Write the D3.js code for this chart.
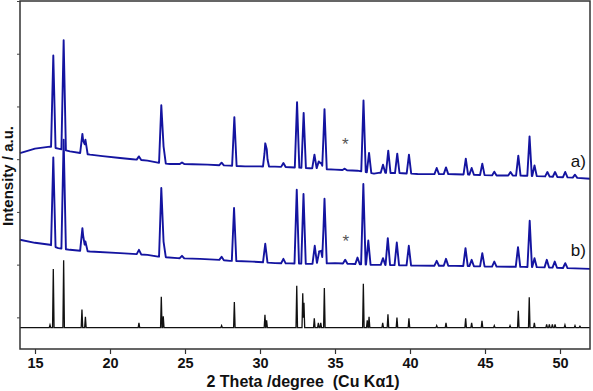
<!DOCTYPE html>
<html>
<head>
<meta charset="utf-8">
<script src="https://cdn.jsdelivr.net/npm/d3@7"></script>
<style>
  body { margin: 0; background: #fff; }
  svg { display: block; }
  text { font-family: "Liberation Sans", Arial, sans-serif; }
</style>
</head>
<body>
<div class="xrd-chart"></div>
<script>
const width = 593;
const height = 391;

// x in degrees 2theta, intensities in arbitrary units
const xTicksMajor = [15, 20, 25, 30, 35, 40, 45, 50];
const yTicks = [0, 1000, 2000, 3000, 4000, 5000, 6000];

// pattern a) : background points and peak tops
const baseA = [
    [14.0, 3114], [15.0, 3200], [16.0, 3238], [16.55, 3200], [17.33, 3148],
    [18.67, 3086], [19.5, 3057], [20.67, 3023], [21.5, 3000], [22.5, 2972],
    [23.3, 2928], [24.0, 2909], [25.5, 2905], [26.5, 2896], [28.0, 2877],
    [29.0, 2863], [30.0, 2863], [31.0, 2858], [32.0, 2848], [33.3, 2829],
    [35.0, 2801], [36.5, 2782], [37.6, 2725], [38.0, 2744], [39.5, 2734],
    [40.5, 2719], [43.0, 2715], [45.5, 2692], [47.6, 2687], [49.0, 2673],
    [51.0, 2649], [52.0, 2630]
];
const peaksA = [
    [16.22, 4967], [16.91, 5257], [18.16, 3479], [18.36, 3371], [21.93, 3053],
    [23.42, 4022], [23.57, 3243], [24.8, 2939], [27.44, 2934], [28.29, 3798],
    [30.35, 3232], [30.45, 3067], [31.56, 2928], [32.47, 4083], [32.91, 3878],
    [33.63, 3086], [33.92, 2958], [34.08, 2928], [34.3, 3950], [35.65, 2820],
    [36.9, 4112], [37.27, 3118], [38.2, 2896], [38.55, 3162], [39.15, 3105],
    [39.93, 3086], [41.78, 2833], [42.4, 2844], [43.72, 3010], [44.11, 2833],
    [44.82, 2915], [45.62, 2763], [46.7, 2757], [47.22, 3067], [47.97, 3433],
    [48.3, 2882], [49.16, 2757], [49.67, 2757], [50.35, 2757], [51.0, 2706]
];

// pattern b)
const baseB = [
    [14.0, 1471], [15.0, 1414], [16.0, 1376], [16.55, 1313], [17.33, 1281],
    [18.67, 1248], [20.67, 1218], [22.5, 1186], [23.2, 1153], [24.5, 1123],
    [26.0, 1110], [27.3, 1091], [28.0, 1072], [29.5, 1058], [31.0, 1028],
    [32.0, 1024], [33.3, 1015], [35.0, 1028], [36.0, 1015], [37.6, 996],
    [38.0, 996], [40.5, 982], [43.0, 977], [45.5, 963], [47.6, 958],
    [49.0, 948], [51.0, 929], [52.0, 920]
];
const peaksB = [
    [16.22, 3034], [16.91, 3371], [18.16, 1693], [18.36, 1438], [21.93, 1281],
    [23.42, 2453], [23.57, 1438], [24.8, 1167], [27.44, 1148], [28.27, 2073],
    [30.35, 1395], [31.56, 1110], [32.45, 2421], [32.9, 2339], [33.65, 1357],
    [33.94, 1237], [34.08, 1248], [34.3, 2250], [35.68, 1091], [36.5, 1134],
    [36.89, 2529], [37.22, 1457], [38.2, 1123], [38.52, 1503], [39.12, 1419],
    [39.92, 1357], [41.78, 1072], [42.4, 1110], [43.7, 1313], [44.11, 1091],
    [44.82, 1218], [45.62, 1058], [47.2, 1332], [47.98, 1832], [48.3, 1123],
    [49.12, 1091], [49.65, 1058], [50.35, 1028]
];

// reference pattern, relative intensity (%)
const sticks = [
    [16.0, 4], [16.22, 87], [16.91, 100], [18.13, 27], [18.36, 16], [21.93, 7],
    [23.42, 46], [23.55, 17], [27.44, 3], [28.29, 38], [30.33, 19], [30.44, 11],
    [32.45, 62], [32.85, 51], [32.93, 37], [33.62, 14], [33.89, 7], [34.05, 7],
    [34.29, 59], [36.89, 65], [37.15, 11], [37.27, 16], [38.18, 7], [38.53, 20],
    [39.13, 15], [39.93, 14], [41.78, 3], [42.4, 7], [43.71, 14], [44.11, 7],
    [44.8, 10], [45.62, 3], [46.67, 3], [47.22, 25], [47.95, 45], [48.29, 7],
    [49.11, 5], [49.29, 5], [49.49, 5], [49.67, 5], [50.33, 4], [51.0, 3], [51.33, 2]
];
const stickBase = -195;
const stickUnit = 12.78; // a.u. per %

const seriesLabels = [
    { text: "a)", x: 50.72, v: 2850 },
    { text: "b)", x: 50.72, v: 1160 }
];
const starMarks = [
    { x: 35.68, v: 3170 },
    { x: 35.72, v: 1330 }
];

const x = d3.scaleLinear().domain([14, 52]).range([20, 590]);
const y = d3.scaleLinear().domain([-600, 6000]).range([349, 1]);

// piecewise-linear profile: background + narrow triangular peaks
function profile(base, peaks, hw) {
    const bg = d3.scaleLinear()
        .domain(base.map((d) => d[0]))
        .range(base.map((d) => d[1]))
        .clamp(true);
    let xs = base.map((d) => d[0]);
    peaks.forEach((p) => xs.push(p[0] - hw, p[0], p[0] + hw));
    xs = Array.from(new Set(xs.filter((v) => v >= 14 && v <= 52))).sort((a, b) => a - b);
    return xs.map((xv) => {
        let v = bg(xv);
        peaks.forEach((p) => {
            const f = 1 - Math.abs(xv - p[0]) / hw;
            if (f > 0) v += (p[1] - bg(p[0])) * f;
        });
        return [xv, v];
    });
}

const svg = d3
    .select(".xrd-chart")
    .append("svg")
    .attr("width", width)
    .attr("height", height);

const line = d3.line().x((d) => x(d[0])).y((d) => y(d[1]));

// stick pattern
const stickPeaks = sticks.map((s) => [s[0], stickBase + s[1] * stickUnit]);
const stickBg = [[14, stickBase], [52, stickBase]];
svg.append("path")
    .attr("d", line(profile(stickBg, stickPeaks, 0.05)))
    .attr("fill", "none")
    .attr("stroke", "#111")
    .attr("stroke-width", 1.3);

// measured patterns
[[baseB, peaksB], [baseA, peaksA]].forEach(([b, p]) => {
    svg.append("path")
        .attr("d", line(profile(b, p, 0.15)))
        .attr("fill", "none")
        .attr("stroke", "#1414a0")
        .attr("stroke-width", 1.9)
        .attr("stroke-linejoin", "round");
});

// frame
svg.append("rect")
    .attr("x", x(14))
    .attr("y", y(6000))
    .attr("width", x(52) - x(14))
    .attr("height", y(-600) - y(6000))
    .attr("fill", "none")
    .attr("stroke", "#333")
    .attr("stroke-width", 1.5);

// x axis
const xMinor = d3.range(15, 52).filter((v) => v % 5 !== 0);
const xAxis = svg.append("g").attr("transform", `translate(0,${y(-600)})`);
xAxis.call(d3.axisBottom(x).tickValues(xMinor).tickSize(3).tickFormat(""));
xAxis.call(d3.axisBottom(x).tickValues(xTicksMajor).tickSize(5).tickPadding(4));
xAxis.selectAll(".domain").remove();
xAxis.selectAll("line").attr("stroke", "#333").attr("stroke-width", 1.2);
xAxis.selectAll("text")
    .attr("font-size", 14.5)
    .attr("font-weight", "bold")
    .attr("fill", "#111")
    .attr("font-family", "Liberation Sans, Arial, sans-serif");

// y axis (no labels)
const yAxis = svg.append("g").attr("transform", `translate(${x(14)},0)`);
yAxis.call(d3.axisLeft(y).tickValues(yTicks).tickSize(3).tickFormat(""));
yAxis.selectAll(".domain").remove();
yAxis.selectAll("line").attr("stroke", "#444").attr("stroke-width", 1);

// axis titles
svg.append("text")
    .text("2 Theta /degree  (Cu K\u03b11)")
    .attr("x", 303)
    .attr("y", 386.5)
    .attr("text-anchor", "middle")
    .attr("font-size", 16)
    .attr("font-weight", "bold")
    .attr("fill", "#111")
    .style("white-space", "pre");

svg.append("text")
    .text("Intensity / a.u.")
    .attr("transform", "translate(13,176) rotate(-90)")
    .attr("text-anchor", "middle")
    .attr("font-size", 15)
    .attr("font-weight", "bold")
    .attr("fill", "#111");

// series labels and markers
svg.selectAll(".series-label")
    .data(seriesLabels)
    .enter()
    .append("text")
    .attr("class", "series-label")
    .text((d) => d.text)
    .attr("x", (d) => x(d.x))
    .attr("y", (d) => y(d.v))
    .attr("font-size", 17)
    .attr("fill", "#111");

svg.selectAll(".star")
    .data(starMarks)
    .enter()
    .append("text")
    .attr("class", "star")
    .text("*")
    .attr("x", (d) => x(d.x))
    .attr("y", (d) => y(d.v))
    .attr("text-anchor", "middle")
    .attr("font-size", 17)
    .attr("fill", "#555");
</script>
</body>
</html>
